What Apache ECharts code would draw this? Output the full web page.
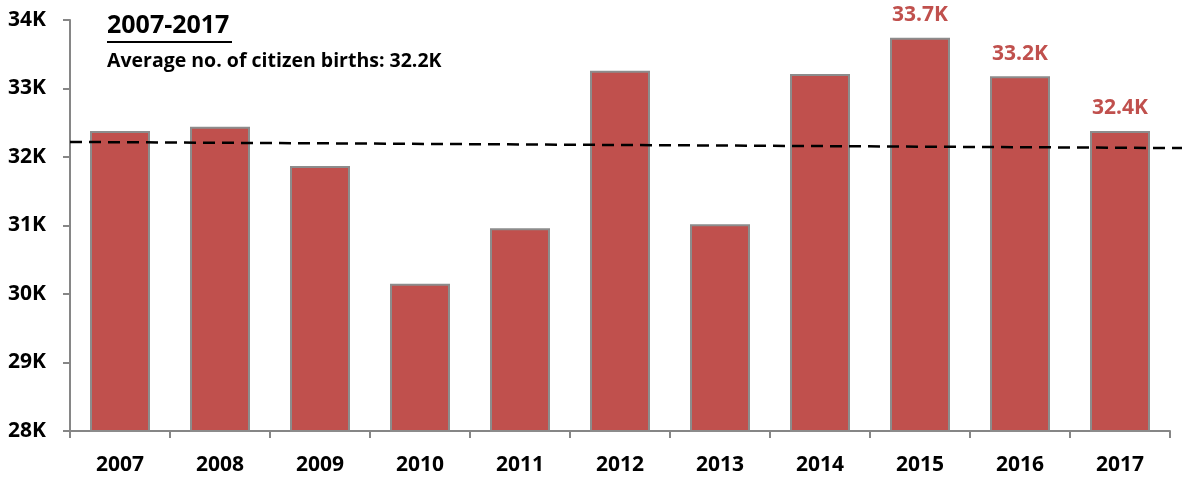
<!DOCTYPE html>
<html><head><meta charset="utf-8">
<script src="https://cdn.jsdelivr.net/npm/echarts@6/dist/echarts.min.js"></script>
<style>html,body{margin:0;padding:0;background:#fff}#c{width:1182px;height:477px}</style>
</head><body><div id="c"></div>
<script>
const years = ['2007','2008','2009','2010','2011','2012','2013','2014','2015','2016','2017'];
const births = [32.38, 32.44, 31.87, 30.15, 30.96, 33.26, 31.02, 33.21, 33.74, 33.18, 32.38];
const labelledYears = ['2015','2016','2017'];
const averageLine = [[0, 32.22], [1, 32.13]];
const yTicks = [28, 29, 30, 31, 32, 33, 34];
const titleText = '2007-2017';
const subtitleText = 'Average no. of citizen births: 32.2K';

const FONT = 'Open Sans';
const chart = echarts.init(document.getElementById('c'));
chart.setOption({
  animation: false,
  textStyle: {fontFamily: FONT},
  grid: [
    {left: 70, right: 12, top: 20, bottom: 46, containLabel: false},
    {left: 70, right: 0, top: 20, bottom: 46, containLabel: false}
  ],
  xAxis: [
    {type: 'category', data: years, gridIndex: 0,
     axisLine: {lineStyle: {color: '#868686', width: 2}},
     axisTick: {show: true, length: 7, lineStyle: {color: '#868686', width: 2}},
     axisLabel: {color: '#000', fontWeight: 'bold', fontSize: 21, margin: 24, fontFamily: FONT}},
    {type: 'value', gridIndex: 1, min: 0, max: 1, show: false}
  ],
  yAxis: [
    {type: 'value', gridIndex: 0, min: yTicks[0], max: yTicks[yTicks.length-1], interval: 1,
     splitLine: {show: false},
     axisLine: {show: true, lineStyle: {color: '#868686', width: 2}},
     axisTick: {show: true, length: 7, lineStyle: {color: '#868686', width: 2}},
     axisLabel: {color: '#000', fontWeight: 'bold', fontSize: 21, margin: 24, fontFamily: FONT,
       formatter: v => v + 'K'}},
    {type: 'value', gridIndex: 1, min: yTicks[0], max: yTicks[yTicks.length-1], show: false}
  ],
  series: [
    {type: 'bar', xAxisIndex: 0, yAxisIndex: 0, barWidth: 60,
     data: births.map((v, i) => ({
       value: v,
       label: {show: labelledYears.includes(years[i])}
     })),
     itemStyle: {color: '#C0504D', borderColor: '#8C8C8C', borderWidth: 2},
     label: {position: 'top', distance: 12, color: '#C0504D', fontWeight: 'bold', fontSize: 21,
       fontFamily: FONT, formatter: p => p.value.toFixed(1) + 'K'}},
    {type: 'line', xAxisIndex: 1, yAxisIndex: 1, data: averageLine, symbol: 'none', z: 5,
     lineStyle: {color: '#000', width: 2.5, type: [12, 7]}}
  ],
  graphic: [
    {type: 'text', left: 107, top: 13, style: {text: titleText, fontSize: 25, fontWeight: 'bold', fontFamily: FONT, fill: '#000'}},
    {type: 'rect', left: 107, top: 41, shape: {width: 125, height: 2}, style: {fill: '#000'}},
    {type: 'text', left: 107, top: 51, style: {text: subtitleText, fontSize: 19.5, fontWeight: 'bold', fontFamily: FONT, fill: '#000'}}
  ]
});
</script></body></html>
